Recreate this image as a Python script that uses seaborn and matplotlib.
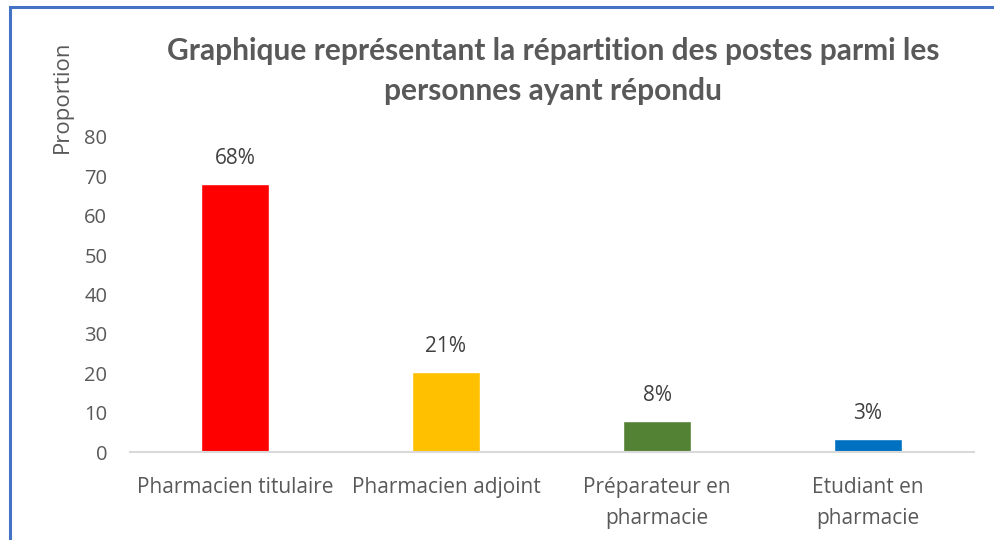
import matplotlib
matplotlib.use("Agg")
import matplotlib.pyplot as plt
import seaborn as sns
import pandas as pd
from matplotlib.patches import Rectangle

categories = ["Pharmacien titulaire", "Pharmacien adjoint", "Préparateur en\npharmacie", "Etudiant en\npharmacie"]
values = [68.0, 20.2, 7.9, 3.3]
labels = ["68%", "21%", "8%", "3%"]
colors = ["#FF0000", "#FFC000", "#548235", "#0070C0"]
yticks = [0, 10, 20, 30, 40, 50, 60, 70, 80]

sns.set_style("white")
plt.rcParams["font.family"] = ["Open Sans", "DejaVu Sans"]

W, H = 994, 540
fig = plt.figure(figsize=(W / 100, H / 100), dpi=100)
ax = fig.add_axes([129.5 / W, 1 - 452 / H, (973.5 - 129.5) / W, (452 - 137) / H])

df = pd.DataFrame({"cat": categories, "val": values})
sns.barplot(data=df, x="cat", y="val", hue="cat", palette=colors, legend=False,
            width=0.32, ax=ax, saturation=1)

gray = "#595959"
ax.set_ylim(0, 80)
ax.set_yticks(yticks)
ax.set_yticklabels([str(t) for t in yticks], fontsize=14.5, color=gray)
ax.tick_params(axis="y", length=0, pad=16)
ax.tick_params(axis="x", length=0, pad=18)
for t in ax.get_xticklabels():
    t.set_fontsize(15)
    t.set_color(gray)
    t.set_linespacing(1.6)
ax.set_xlabel("")
ax.set_ylabel("")
for s in ["top", "right", "left"]:
    ax.spines[s].set_visible(False)
ax.spines["bottom"].set_color("#D9D9D9")
ax.spines["bottom"].set_linewidth(1.5)
ax.set_xlim(-0.5, 3.5)

for i, (v, lab) in enumerate(zip(values, labels)):
    ax.annotate(lab, (i, v), xytext=(0, 11), textcoords="offset points",
                ha="center", va="bottom", fontsize=15, color="#404040")

fig.text(553 / W, 1 - 71 / H,
         "Graphique représentant la répartition des postes parmi les\npersonnes ayant répondu",
         ha="center", va="center", fontsize=21.5, fontweight="bold", color=gray,
         linespacing=1.5, family=["Lato", "DejaVu Sans"])
fig.text(62 / W, 1 - 97 / H, "Proportion", rotation=90, ha="center", va="center",
         fontsize=16, color=gray)

fig.patches.append(Rectangle((9.5 / W, -0.1), 1.2, 1.1 - 7 / H,
                             transform=fig.transFigure, fill=False,
                             edgecolor="#4472C4", linewidth=2.2))

fig.savefig("out.png", dpi=100)
